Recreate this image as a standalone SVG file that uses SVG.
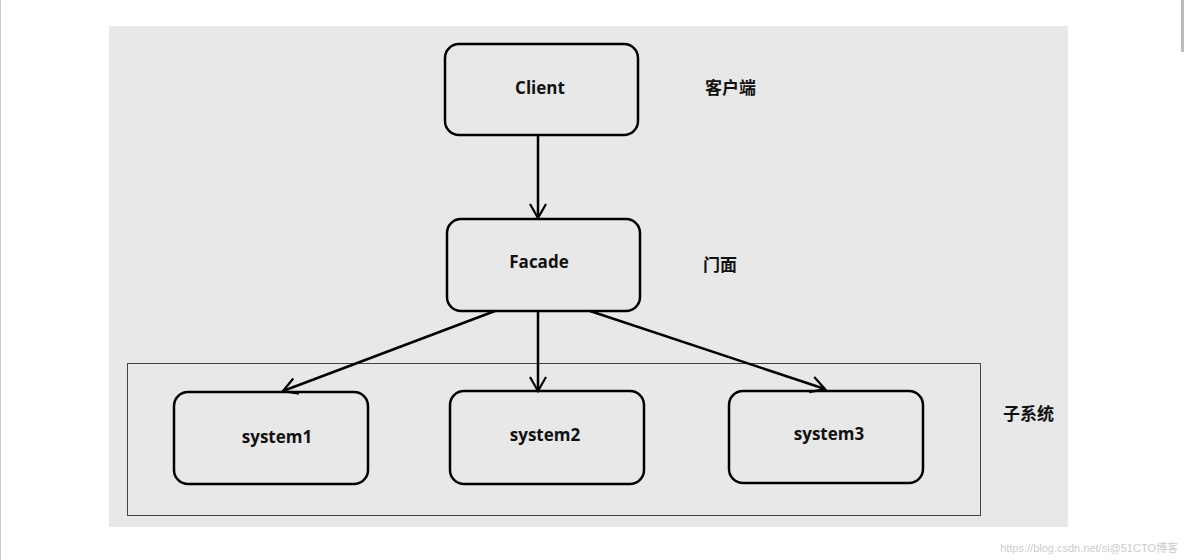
<svg xmlns="http://www.w3.org/2000/svg" width="1184" height="560" viewBox="0 0 1184 560">
<defs>
<style>
.node{fill:none;stroke:#000;stroke-width:2.5}
.lbl{font-family:"Open Sans","Noto Sans",sans-serif;font-weight:bold;font-size:17px;fill:#111;text-anchor:middle}
.cjk{font-family:"Noto Sans CJK SC",sans-serif;font-weight:bold;font-size:17px;fill:#111}
.conn{stroke:#000;stroke-width:2.5;fill:none}
</style>
<marker id="arr" viewBox="0 0 20 20" refX="18" refY="10" markerWidth="20" markerHeight="20" markerUnits="userSpaceOnUse" orient="auto">
<path d="M4,2 L18,10 L4,18" fill="none" stroke="#000" stroke-width="2.2"/>
</marker>
</defs>
<rect x="0" y="0" width="1184" height="560" fill="#fff"/>
<line x1="0.5" y1="0" x2="0.5" y2="560" stroke="#ccc"/>
<rect x="1181" y="0" width="3" height="52" fill="#bbb"/>
<rect x="109" y="26" width="959" height="501" fill="#e8e8e8"/>
<rect id="subsystem-box" x="127.5" y="363.5" width="853" height="152" fill="none" stroke="#444" stroke-width="1"/>
<g id="client"><rect class="node" x="445" y="44" width="193" height="91" rx="14"/><text class="lbl" x="540" y="94">Client</text></g>
<g id="facade"><rect class="node" x="447" y="219" width="193" height="92" rx="14"/><text class="lbl" x="539" y="268">Facade</text></g>
<g id="system1"><rect class="node" x="174" y="392" width="194" height="92" rx="14"/><text class="lbl" x="277" y="443">system1</text></g>
<g id="system2"><rect class="node" x="450" y="391" width="194" height="93" rx="14"/><text class="lbl" x="545" y="441">system2</text></g>
<g id="system3"><rect class="node" x="729" y="391" width="194" height="92" rx="14"/><text class="lbl" x="829" y="440">system3</text></g>
<g id="labels">
<text class="cjk" x="705" y="94">客户端</text>
<text class="cjk" x="703" y="271">门面</text>
<text class="cjk" x="1003" y="420">子系统</text>
</g>
<g id="connectors">
<line class="conn" x1="538" y1="135" x2="538" y2="218" marker-end="url(#arr)"/>
<line class="conn" x1="495" y1="311" x2="283" y2="391" marker-end="url(#arr)"/>
<line class="conn" x1="538" y1="311" x2="538" y2="391" marker-end="url(#arr)"/>
<line class="conn" x1="590" y1="311" x2="825" y2="389" marker-end="url(#arr)"/>
</g>
<text x="1178" y="552" font-family="'Liberation Sans','Noto Sans CJK SC',sans-serif" font-size="11" fill="#ccc" text-anchor="end">https://blog.csdn.net/si@51CTO博客</text>
</svg>
